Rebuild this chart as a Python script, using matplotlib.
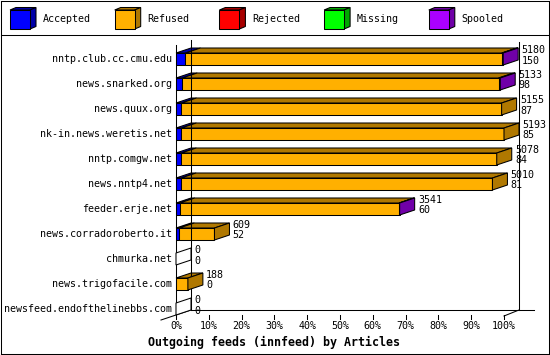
import matplotlib
matplotlib.use("Agg")
import matplotlib.pyplot as plt
from matplotlib.patches import Polygon, Rectangle
from matplotlib.lines import Line2D

plt.rcParams["font.family"] = "DejaVu Sans Mono"

feeds = ["nntp.club.cc.cmu.edu", "news.snarked.org", "news.quux.org",
         "nk-in.news.weretis.net", "nntp.comgw.net", "news.nntp4.net",
         "feeder.erje.net", "news.corradoroberto.it", "chmurka.net",
         "news.trigofacile.com", "newsfeed.endofthelinebbs.com"]
offered = [5180, 5133, 5155, 5193, 5078, 5010, 3541, 609, 0, 188, 0]
accepted = [150, 98, 87, 85, 84, 81, 60, 52, 0, 0, 0]
refused = [5008, 5010, 5068, 5108, 4994, 4929, 3471, 557, 0, 188, 0]
rejected = [16, 0, 0, 0, 0, 0, 0, 0, 0, 0, 0]
missing = [0, 0, 0, 0, 0, 0, 0, 0, 0, 0, 0]
spooled = [6, 25, 0, 0, 0, 0, 10, 0, 0, 0, 0]

series = ["Accepted", "Refused", "Rejected", "Missing", "Spooled"]
front_colors = ["#0000ff", "#ffb000", "#ff0000", "#00ff00", "#aa00ff"]
dark_colors = ["#0000a8", "#b07800", "#a80000", "#00a800", "#7000a8"]
ticks = list(range(0, 101, 10))

W, H = 550, 355
fig = plt.figure(figsize=(W / 100, H / 100), dpi=100)

# main plot area: 0% -> x=176px, 100% -> x=504px
ax = fig.add_axes([176 / W, 1 - 317 / H, 328 / W, 272 / H])
ax.set_xlim(0, 100)
ax.set_ylim(10.32, -0.56)
ax.axis("off")

dx = 15 / 3.28   # depth in percent
dy = 0.2         # depth in rows
hh = 0.24        # half bar height
lw = 0.75
top_y, floor_back, floor_front = -0.76, 10.04, 10.28

# walls and floor
ax.add_line(Line2D([0, 0], [-0.56, floor_front], color="k", lw=lw, clip_on=False))
ax.add_line(Line2D([dx, dx], [top_y, floor_back], color="k", lw=lw, clip_on=False))
ax.add_line(Line2D([100 + dx, 100 + dx], [top_y + 0.08, floor_back], color="k", lw=lw, clip_on=False))
ax.add_line(Line2D([dx, 100 + 2 * dx], [floor_back, floor_back], color="k", lw=lw, clip_on=False))
ax.add_line(Line2D([100, 100 + dx], [floor_front, floor_back], color="k", lw=lw, clip_on=False))
ax.add_line(Line2D([-dx, dx], [floor_front + 0.16, floor_back], color="k", lw=lw, clip_on=False))

for t in ticks:
    ax.add_line(Line2D([t, t], [10.24, 10.38], color="k", lw=lw, clip_on=False))
    ax.text(t, 10.68, f"{t}%", ha="center", va="center", fontsize=7.2, clip_on=False)

vmax = max(offered)
for i, name in enumerate(feeds):
    segs = [accepted[i], refused[i], rejected[i], missing[i], spooled[i]]
    left = 0
    side = "white"
    for k, v in enumerate(segs):
        w = v / vmax * 100
        if w <= 0:
            continue
        ax.add_patch(Polygon([(left, i - hh), (left + w, i - hh), (left + w, i + hh), (left, i + hh)],
                             closed=True, fc=front_colors[k], ec="k", lw=lw, clip_on=False))
        ax.add_patch(Polygon([(left, i - hh), (left + w, i - hh), (left + w + dx, i - hh - dy),
                              (left + dx, i - hh - dy)],
                             closed=True, fc=dark_colors[k], ec="k", lw=lw, clip_on=False))
        left += w
        side = dark_colors[k]
    ax.add_patch(Polygon([(left, i - hh), (left, i + hh), (left + dx, i + hh - dy), (left + dx, i - hh - dy)],
                         closed=True, fc=side, ec="k", lw=lw, clip_on=False, zorder=3))
    ax.text(-1.2, i, name, ha="right", va="center", fontsize=7.2, clip_on=False)
    ax.text(left + dx + 1.0, i - 0.36, str(offered[i]), ha="left", va="center", fontsize=7.2, clip_on=False)
    ax.text(left + dx + 1.0, i + 0.06, str(accepted[i]), ha="left", va="center", fontsize=7.2, clip_on=False)

fig.text(274.5 / W, 1 - 342 / H, "Outgoing feeds (innfeed) by Articles",
         ha="center", va="center", fontsize=8.4, fontweight="bold")

# legend band
lg = fig.add_axes([0, 1 - 35 / H, 1, 35 / H])
lg.set_xlim(0, W)
lg.set_ylim(35, 0)
lg.axis("off")
for k, name in enumerate(series):
    x0 = 10 + k * 104.7
    lg.add_patch(Polygon([(x0, 10), (x0 + 20, 10), (x0 + 26, 7.5), (x0 + 6, 7.5)],
                         closed=True, fc=dark_colors[k], ec="k", lw=lw))
    lg.add_patch(Polygon([(x0 + 20, 10), (x0 + 20, 29), (x0 + 26, 26.5), (x0 + 26, 7.5)],
                         closed=True, fc=dark_colors[k], ec="k", lw=lw))
    lg.add_patch(Rectangle((x0, 10), 20, 19, fc=front_colors[k], ec="k", lw=lw))
    lg.text(x0 + 33, 19.5, name, ha="left", va="center", fontsize=7.2)

# frame
fig.add_artist(Line2D([0.5 / W, 0.5 / W], [1 - 0.5 / H, 1 - 353.5 / H], color="k", lw=lw))
fig.add_artist(Line2D([549 / W, 549 / W], [1 - 0.5 / H, 1 - 353.5 / H], color="k", lw=lw))
fig.add_artist(Line2D([0.5 / W, 549 / W], [1 - 0.5 / H, 1 - 0.5 / H], color="k", lw=lw))
fig.add_artist(Line2D([0.5 / W, 549 / W], [1 - 353.5 / H, 1 - 353.5 / H], color="k", lw=lw))
fig.add_artist(Line2D([0.5 / W, 549 / W], [1 - 35 / H, 1 - 35 / H], color="k", lw=lw))

fig.savefig("out.png", dpi=100)
